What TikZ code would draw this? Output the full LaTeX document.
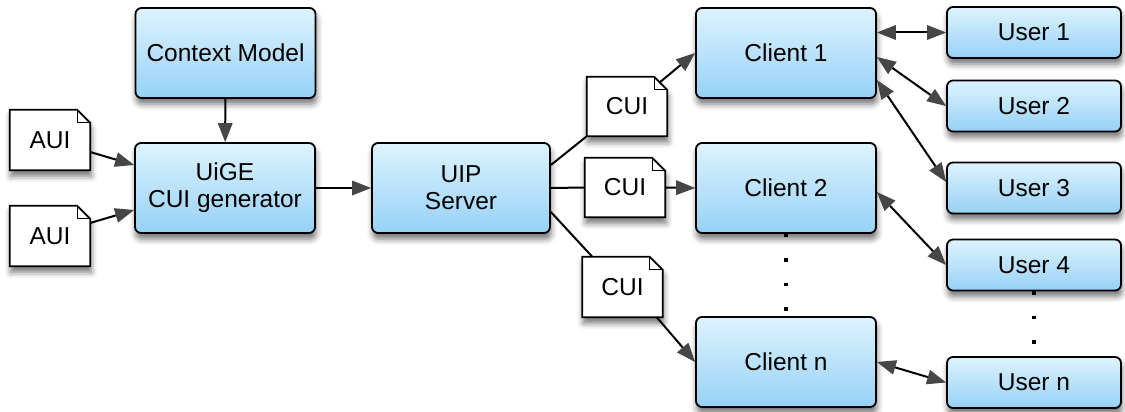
\documentclass[tikz,border=0pt]{standalone}
\usepackage{fontspec}
\setmainfont{Liberation Sans}
\usetikzlibrary{arrows.meta,shadows.blur,backgrounds}

\definecolor{boxtop}{RGB}{222,243,254}
\definecolor{boxbot}{RGB}{150,209,246}

\tikzset{
  softshadow/.style={blur shadow={shadow xshift=1pt, shadow yshift=-6pt,
      shadow blur radius=6pt, shadow opacity=55}},
  box/.style={draw=black, line width=1.8pt, rounded corners=6pt,
      top color=boxtop, bottom color=boxbot,
      minimum width=180pt, minimum height=90pt, inner sep=0pt,
      align=center, font=\fontsize{24.5}{27}\selectfont, softshadow},
  userbox/.style={box, minimum width=174pt, minimum height=51pt},
  doc/.style={minimum width=80pt, minimum height=60pt, inner sep=0pt,
      font=\fontsize{24.5}{27}\selectfont},
  docpage/.style={draw=black, line width=1.8pt, fill=white, softshadow},
  link/.style={line width=2pt,
      -{Triangle[length=19pt,width=15pt,line width=0pt]}},
  twoway/.style={line width=2pt,
      {Triangle[length=19pt,width=15pt,line width=0pt]}-{Triangle[length=19pt,width=15pt,line width=0pt]}},
  plain/.style={line width=2pt},
  dotline/.style={line width=3.2pt, dash pattern=on 3.2pt off 21.3pt}
}

% sheet of paper with a folded top-right corner, drawn around a doc node
\newcommand\foldedsheet[1]{%
  \path[docpage] (#1.north west) -- ([xshift=-13pt]#1.north east)
    -- ([yshift=-13pt]#1.north east) -- (#1.south east)
    -- (#1.south west) -- cycle;
  \draw[line width=1.1pt] ([xshift=-13pt]#1.north east)
    -- ([xshift=-13pt,yshift=-13pt]#1.north east)
    -- ([yshift=-13pt]#1.north east);}

\begin{document}
\begin{tikzpicture}[x=1pt, y=-1pt]
\useasboundingbox (0,0) rectangle (1125,412);

% generator side
\node[box] (ctx)  at (225.5,53)  {Context Model};
\node[box] (uige) at (225,188)   {UiGE\\CUI generator};
\node[doc] (aui1) at (50,140)    {AUI};
\node[doc] (aui2) at (50,236)    {AUI};

% server and clients
\node[box, minimum width=178pt] (uip) at (461,188) {UIP\\Server};
\node[box] (client1) at (786,53)  {Client 1};
\node[box] (client2) at (786,188) {Client 2};
\node[box] (clientn) at (786,362) {Client n};

\node[doc, minimum height=59pt] (cui1) at (627,106.5) {CUI};
\node[doc, minimum height=59pt] (cui2) at (625,187.5) {CUI};
\node[doc] (cui3) at (622.5,287) {CUI};

% users
\node[userbox] (user1) at (1034,32.5) {User 1};
\node[userbox] (user2) at (1034,106)  {User 2};
\node[userbox] (user3) at (1034,188)  {User 3};
\node[userbox] (user4) at (1034,265)  {User 4};
\node[userbox] (usern) at (1034,382.5) {User n};

\begin{pgfonlayer}{background}
  \foldedsheet{aui1}
  \foldedsheet{aui2}
  \foldedsheet{cui1}
  \foldedsheet{cui2}
  \foldedsheet{cui3}
\end{pgfonlayer}

% connectors
\draw[link] (ctx) -- (uige);
\draw[link] ([yshift=-12pt]aui1.east) -- ([yshift=23pt]uige.west);
\draw[link] ([yshift=13pt]aui2.east) -- ([yshift=-22pt]uige.west);
\draw[link] (uige) -- (uip);

\draw[plain] ([yshift=23pt]uip.east) -- (cui1.south west);
\draw[link] ([xshift=-8pt,yshift=-6pt]cui1.north east) -- (client1.west);
\draw[plain] (uip.east) -- (cui2.west);
\draw[link] (cui2.east) -- (client2.west);
\draw[plain] ([yshift=-24pt]uip.east) -- ([xshift=10pt]cui3.north west);
\draw[link] ([xshift=-6pt]cui3.south east) -- (clientn.west);

\draw[twoway] (client1.east |- user1.west) -- (user1.west);
\draw[twoway] ([yshift=-4pt]client1.east) -- (user2.west);
\draw[twoway] ([yshift=-27pt]client1.east) -- ([yshift=6pt]user3.west);
\draw[twoway] ([yshift=-4pt]client2.east) -- (user4.west);
\draw[twoway] (clientn.east) -- (usern.west);

% ellipsis between the numbered clients and users
\draw[dotline] (client2.south) -- (clientn.north);
\draw[dotline] (user4.south) -- (usern.north);
\end{tikzpicture}
\end{document}
